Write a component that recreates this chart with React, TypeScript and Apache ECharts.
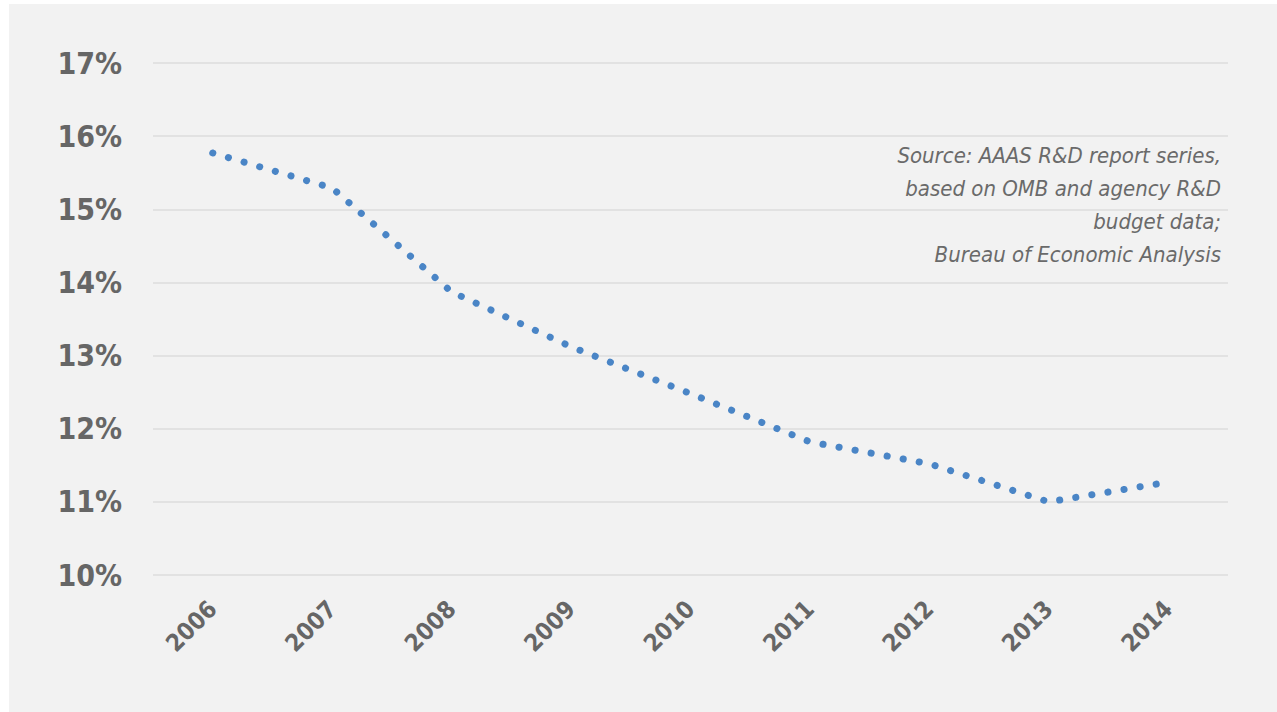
import React, { useEffect, useRef } from "react";
import * as echarts from "echarts";

const years = ["2006", "2007", "2008", "2009", "2010", "2011", "2012", "2013", "2014"];
const shares = [15.77, 15.29, 13.87, 13.12, 12.48, 11.82, 11.52, 11.0, 11.27];
const yTicks = { min: 10, max: 17, interval: 1 };
const sourceLines = [
  "Source: AAAS R&D report series,",
  "based on OMB and agency R&D",
  "budget data;",
  "Bureau of Economic Analysis",
];

const FONT = "'DejaVu Sans Condensed', 'Liberation Sans Narrow', sans-serif";

export default function App() {
  const ref = useRef<HTMLDivElement>(null);
  useEffect(() => {
    if (!ref.current) return;
    const chart = echarts.init(ref.current, undefined, { renderer: "svg" });
    chart.setOption({
      animation: false,
      backgroundColor: "#f2f2f2",
      grid: { left: 144, right: 49, top: 59, bottom: 137, containLabel: false },
      xAxis: {
        type: "category",
        data: years,
        boundaryGap: true,
        axisLine: { show: false },
        axisTick: { show: false },
        axisLabel: {
          rotate: 45,
          margin: 30,
          color: "#666666",
          fontFamily: FONT,
          fontWeight: "bold",
          fontSize: 24,
        },
      },
      yAxis: {
        type: "value",
        min: yTicks.min,
        max: yTicks.max,
        interval: yTicks.interval,
        axisLine: { show: false },
        axisTick: { show: false },
        axisLabel: {
          formatter: "{value}%",
          margin: 31,
          color: "#666666",
          fontFamily: FONT,
          fontWeight: "bold",
          fontSize: 30,
        },
        splitLine: { lineStyle: { color: "#e2e2e2", width: 2 } },
      },
      graphic: [
        {
          type: "text",
          right: 56,
          top: 135,
          style: {
            text: sourceLines.join("\n"),
            fill: "#6a6a6a",
            font: `italic 22px ${FONT}`,
            textAlign: "right",
            lineHeight: 33,
          },
        },
      ],
      series: [
        {
          type: "line",
          data: shares,
          symbol: "none",
          smooth: false,
          lineStyle: {
            color: "#4a85c6",
            width: 7,
            type: [0.1, 16.2],
            cap: "round",
          },
        },
      ],
    });
    return () => chart.dispose();
  }, []);
  return (
    <div
      ref={ref}
      style={{ position: "absolute", left: 9, top: 4, width: 1268, height: 708 }}
    />
  );
}
